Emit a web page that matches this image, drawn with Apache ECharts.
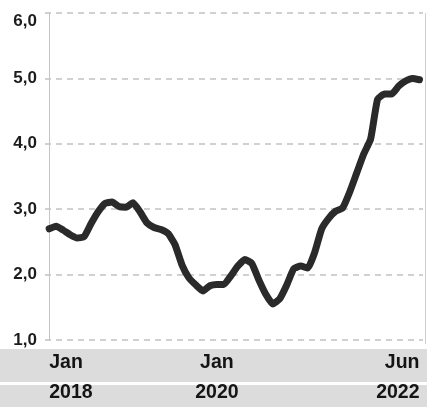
<!DOCTYPE html>
<html>
<head>
<meta charset="utf-8">
<script src="https://cdn.jsdelivr.net/npm/echarts@6/dist/echarts.min.js"></script>
<style>
  html, body { margin: 0; padding: 0; background: #ffffff; }
  #chart { width: 427px; height: 407px; }
</style>
</head>
<body>
<div id="chart"></div>
<script>
// Monthly series, Jan 2018 (index 0) to Jun 2022 (index 53)
const monthIndex = [
  0, 1, 2, 3, 4, 5, 6, 7, 8, 9, 10, 11,
  12, 13, 14, 15, 16, 17, 18, 19, 20, 21, 22, 23,
  24, 25, 26, 27, 28, 29, 30, 31, 32, 33, 34, 35,
  36, 37, 38, 39, 40, 41, 42, 43, 44, 45, 46, 47,
  48, 49, 50, 51, 52, 53
];
const values = [
  2.70, 2.74, 2.68, 2.61, 2.56, 2.58, 2.78, 2.96, 3.09, 3.11, 3.04, 3.03,
  3.10, 2.96, 2.79, 2.72, 2.69, 2.63, 2.46, 2.15, 1.95, 1.84, 1.75, 1.83,
  1.85, 1.85, 1.98, 2.13, 2.23, 2.17, 1.92, 1.70, 1.55, 1.63, 1.84, 2.09,
  2.13, 2.10, 2.34, 2.70, 2.86, 2.97, 3.02, 3.26, 3.55, 3.84, 4.07, 4.68,
  4.76, 4.76, 4.88, 4.96, 5.00, 4.98
];
const tickMonths = [0, 24, 53];
const tickMonthNames = ['Jan', 'Jan', 'Jun'];
const tickYears = ['2018', '2020', '2022'];

const FONT = '"Liberation Sans", Arial, sans-serif';

const chart = echarts.init(document.getElementById('chart'), null, { renderer: 'canvas' });

chart.setOption({
  animation: false,
  backgroundColor: '#ffffff',
  grid: { left: 45, right: 4, top: 13, bottom: 63, containLabel: false },
  graphic: [
    // shaded bands behind the month and year rows
    { type: 'rect', silent: true, z: -10, shape: { x: 0, y: 349, width: 427, height: 33 }, style: { fill: '#dcdcdc' } },
    { type: 'rect', silent: true, z: -10, shape: { x: 0, y: 385, width: 427, height: 22 }, style: { fill: '#dcdcdc' } },
    // thin frame on the right of the plot
    { type: 'line', silent: true, z: -5, shape: { x1: 425.5, y1: 13, x2: 425.5, y2: 344 }, style: { stroke: '#cfcfcf', lineWidth: 1 } }
  ],
  xAxis: {
    type: 'value',
    min: -0.6,
    max: 53.5,
    axisLine: { show: false },
    axisTick: { show: false },
    splitLine: { show: false },
    axisLabel: {
      customValues: tickMonths,
      alignMinLabel: 'left',
      alignMaxLabel: 'right',
      margin: 8,
      fontFamily: FONT,
      fontWeight: 'bold',
      fontSize: 19.5,
      lineHeight: 29.5,
      color: '#141414',
      formatter: function (v) {
        const i = tickMonths.indexOf(v);
        return i < 0 ? '' : tickMonthNames[i] + '\n' + tickYears[i];
      }
    }
  },
  yAxis: {
    type: 'value',
    min: 1,
    max: 6,
    interval: 1,
    axisLine: { show: true, lineStyle: { color: '#c4c4c4', width: 1 } },
    axisTick: { show: false },
    splitLine: { show: true, lineStyle: { color: '#c2c2c2', width: 1.5, type: [6, 5] } },
    axisLabel: {
      margin: 8,
      fontFamily: FONT,
      fontWeight: 'bold',
      fontSize: 17,
      color: '#1c1c1c',
      verticalAlignMaxLabel: 'top',
      formatter: function (v) { return v.toFixed(1).replace('.', ','); }
    }
  },
  series: [{
    type: 'line',
    data: monthIndex.map(function (m, i) { return [m, values[i]]; }),
    showSymbol: false,
    smooth: 0.15,
    lineStyle: { color: '#2a2a2a', width: 7, cap: 'round', join: 'round' },
    z: 5
  }]
});
</script>
</body>
</html>
